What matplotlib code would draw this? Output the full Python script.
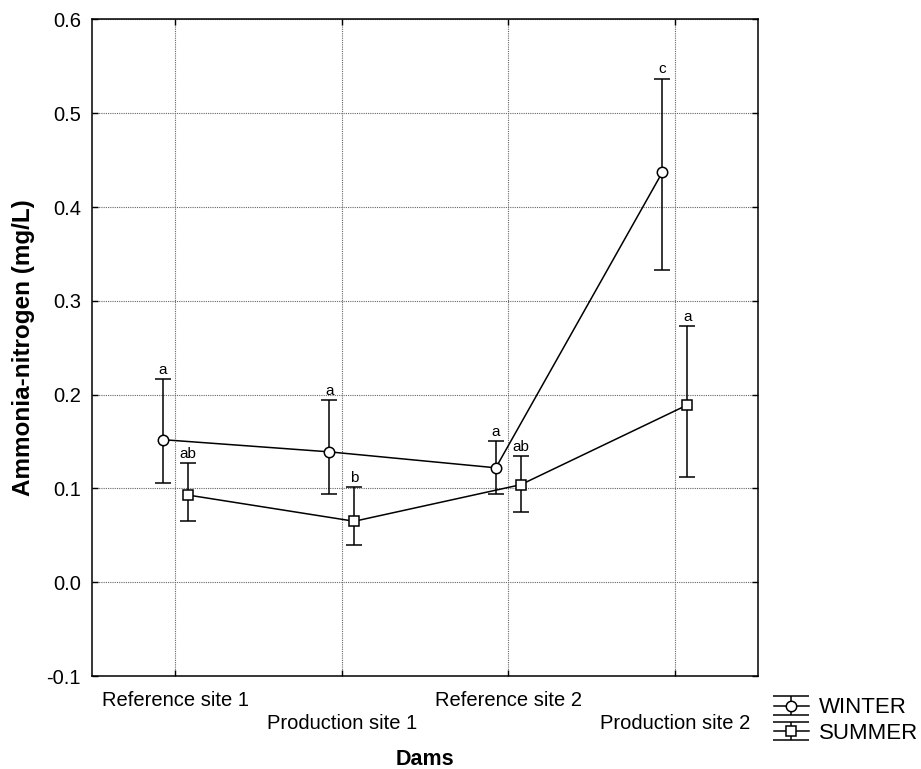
import numpy as np
import matplotlib.pyplot as plt
from matplotlib.legend_handler import HandlerErrorbar

plt.rcParams['font.family'] = ['Liberation Sans', 'DejaVu Sans']

# dams sampled and ammonia-nitrogen means with upper/lower confidence limits
dams = ['Reference site 1', 'Production site 1', 'Reference site 2', 'Production site 2']

winter_mean = [0.152, 0.139, 0.122, 0.437]
winter_upper = [0.217, 0.194, 0.151, 0.537]
winter_lower = [0.106, 0.094, 0.094, 0.333]
winter_letters = ['a', 'a', 'a', 'c']

summer_mean = [0.093, 0.065, 0.104, 0.189]
summer_upper = [0.127, 0.101, 0.135, 0.273]
summer_lower = [0.065, 0.040, 0.075, 0.112]
summer_letters = ['ab', 'b', 'ab', 'a']


class WideCapHandler(HandlerErrorbar):
    """Errorbar legend key whose caps run the full key width."""

    def create_artists(self, legend, orig_handle, xdescent, ydescent,
                       width, height, fontsize, trans):
        artists = super().create_artists(legend, orig_handle, xdescent, ydescent,
                                         width, height, fontsize, trans)
        for a in artists:
            if hasattr(a, 'get_marker') and a.get_marker() == '_':
                a.set_markersize(width)
        return artists


fig = plt.figure(figsize=(9.21, 7.69), dpi=100)
ax = fig.add_axes([0.0999, 0.1209, 0.7232, 0.8538])

pos = np.arange(len(dams))
shift = 0.075


def draw_season(x, mean, upper, lower, letters, marker, label):
    mean = np.array(mean)
    err = [mean - np.array(lower), np.array(upper) - mean]
    cont = ax.errorbar(x, mean, yerr=err, color='black', lw=1.1, elinewidth=1.1,
                       capsize=6, capthick=1.1, marker=marker, ms=7.5 if marker == 'o' else 6.5,
                       mfc='white', mec='black', mew=1.1, label=label, zorder=3)
    # significance letters above each upper limit
    for xi, up, let in zip(x, upper, letters):
        ax.annotate(let, (xi, up), xytext=(0, 1.5), textcoords='offset points',
                    ha='center', va='bottom', fontsize=11)
    return cont


w = draw_season(pos - shift, winter_mean, winter_upper, winter_lower, winter_letters, 'o', 'WINTER')
s = draw_season(pos + shift, summer_mean, summer_upper, summer_lower, summer_letters, 's', 'SUMMER')

ax.set_xlim(-0.5, 3.5)
ax.set_ylim(-0.1, 0.6)
ax.set_yticks(np.arange(-0.1, 0.61, 0.1))
ax.set_yticklabels(['%.1f' % v for v in np.arange(-0.1, 0.61, 0.1)])
ax.set_xticks(pos)
ax.set_xticklabels(dams)

ax.tick_params(direction='in', length=4, width=1, top=True, right=True, labelsize=14.5)
ax.tick_params(axis='y', pad=8)
# stagger the category labels on two rows
for i, t in enumerate(ax.xaxis.get_major_ticks()):
    t.set_pad(11 if i % 2 == 0 else 27)

ax.grid(True, linestyle=(0, (1, 1)), color='0.4', lw=0.8)
ax.set_axisbelow(True)
for sp in ax.spines.values():
    sp.set_linewidth(1.1)

ax.set_xlabel('Dams', fontsize=15.5, fontweight='bold')
ax.set_ylabel('Ammonia-nitrogen (mg/L)', fontsize=17.5, fontweight='bold', labelpad=8)
ax.xaxis.set_label_coords(0.5, -0.111)

fig.legend(handles=[w, s], loc='upper left', bbox_to_anchor=(0.84, 0.093),
           frameon=False, fontsize=16, handlelength=1.6, handletextpad=0.45,
           labelspacing=0.2, borderaxespad=0, borderpad=0,
           handler_map={type(w): WideCapHandler(yerr_size=0.42)})

fig.savefig('out.png', dpi=100)
